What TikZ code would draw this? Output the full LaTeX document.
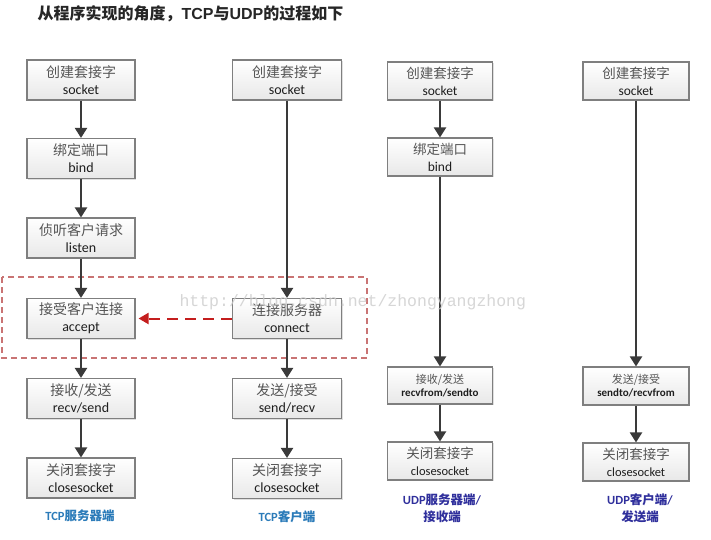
\documentclass[tikz,border=0pt]{standalone}
\usepackage{fontspec}
\usetikzlibrary{arrows.meta,shadows}
\newfontfamily\cjk{Noto Sans CJK SC}
\newfontfamily\en{Carlito}
\newfontfamily\ttl{Liberation Sans}
\newfontfamily\wm{Liberation Mono}
\definecolor{arrowgray}{HTML}{3A3A3A}
\definecolor{boxedge}{HTML}{7F7F7F}
\definecolor{zhtext}{HTML}{555555}
\definecolor{entext}{HTML}{1E1E1E}
\definecolor{tcpblue}{HTML}{2B7BB9}
\definecolor{udpblue}{HTML}{2F2F9C}
\definecolor{redarrow}{HTML}{C41E1E}
\definecolor{redframe}{HTML}{C97474}
\tikzset{
  x=1pt, y=-1pt,
  stepbox/.style={draw=boxedge, line width=1.1pt, top color=white, bottom color=gray!18,
    minimum height=40pt, inner sep=0pt, align=center,
    font=\fontsize{14}{17}\selectfont,
    drop shadow={shadow xshift=1.2pt, shadow yshift=-1.2pt, opacity=0.25}},
  smallbox/.style={stepbox, font=\fontsize{11}{13}\selectfont},
  flow/.style={draw=arrowgray, line width=2pt, -{Triangle[length=10pt,width=12pt]}},
  reqarrow/.style={draw=redarrow, line width=2pt, dash pattern=on 11pt off 7pt,
    -{Triangle[length=10pt,width=11pt]}, shorten >=3pt},
  frame/.style={draw=redframe, line width=1.3pt, dash pattern=on 6pt off 4pt},
  tcplabel/.style={text=tcpblue, font=\fontsize{12.5}{15}\selectfont\bfseries, align=center},
  udplabel/.style={text=udpblue, font=\fontsize{12.5}{17}\selectfont\bfseries, align=center},
}
\newcommand{\zh}[1]{{\cjk\color{zhtext}#1}}
\newcommand{\lat}[1]{{\en\color{entext}#1}}
\begin{document}
\begin{tikzpicture}
\useasboundingbox (0,0) rectangle (711,539);
\fill[white] (0,0) rectangle (711,539);

\node[anchor=west, text=black!85, font=\fontsize{16}{18}\selectfont\bfseries] (title) at (34,14)
  {{\cjk 从程序实现的角度，}{\ttl TCP}{\cjk 与}{\ttl UDP}{\cjk 的过程如下}};

% frame around accept/connect
\draw[frame] (2,277) rectangle (367,358);

% TCP server
\node[stepbox, minimum width=108pt] (s1) at (81,80)   {\zh{创建套接字}\\\lat{socket}};
\node[stepbox, minimum width=108pt] (s2) at (81,158.5){\zh{绑定端口}\\\lat{bind}};
\node[stepbox, minimum width=108pt] (s3) at (81,238)  {\zh{侦听客户请求}\\\lat{listen}};
\node[stepbox, minimum width=108pt] (s4) at (81,318.5){\zh{接受客户连接}\\\lat{accept}};
\node[stepbox, minimum width=108pt] (s5) at (81,398.5){\zh{接收/发送}\\\lat{recv/send}};
\node[stepbox, minimum width=108pt] (s6) at (81,478)  {\zh{关闭套接字}\\\lat{closesocket}};
\node[tcplabel] (l1) at (80,516) {{\en TCP}{\cjk 服务器端}};

% TCP client
\node[stepbox, minimum width=109pt] (c1) at (287,80)   {\zh{创建套接字}\\\lat{socket}};
\node[stepbox, minimum width=109pt] (c2) at (287,318.5){\zh{连接服务器}\\\lat{connect}};
\node[stepbox, minimum width=109pt] (c3) at (287,398.5){\zh{发送/接受}\\\lat{send/recv}};
\node[stepbox, minimum width=109pt] (c4) at (287,478.5){\zh{关闭套接字}\\\lat{closesocket}};
\node[tcplabel] (l2) at (287,517) {{\en TCP}{\cjk 客户端}};

% UDP server
\node[stepbox, minimum width=105pt, minimum height=38pt, font=\fontsize{13.5}{17}\selectfont] (u1) at (440,81) {\zh{创建套接字}\\\lat{socket}};
\node[stepbox, minimum width=105pt, minimum height=38pt, font=\fontsize{13.5}{17}\selectfont] (u2) at (440,157){\zh{绑定端口}\\\lat{bind}};
\node[smallbox, minimum width=105pt, minimum height=37pt] (u3) at (440,385.5){\zh{接收/发送}\\\lat{\bfseries recvfrom/sendto}};
\node[stepbox, minimum width=105pt, minimum height=38pt, font=\fontsize{13.5}{17}\selectfont] (u4) at (440,461){\zh{关闭套接字}\\{\en\color{entext}\fontsize{12.5}{17}\selectfont closesocket}};
\node[udplabel] (l3) at (442,508) {{\en UDP}{\cjk 服务器端}{\en /}\\{\cjk 接收端}};

% UDP client
\node[stepbox, minimum width=106pt, minimum height=38pt, font=\fontsize{13.5}{17}\selectfont] (v1) at (636,81) {\zh{创建套接字}\\\lat{socket}};
\node[smallbox, minimum width=106pt, minimum height=38pt] (v2) at (636,386){\zh{发送/接受}\\\lat{\bfseries sendto/recvfrom}};
\node[stepbox, minimum width=106pt, minimum height=38pt, font=\fontsize{13.5}{17}\selectfont] (v3) at (636,462){\zh{关闭套接字}\\{\en\color{entext}\fontsize{12.5}{17}\selectfont closesocket}};
\node[udplabel] (l4) at (640,508) {{\en UDP}{\cjk 客户端}{\en /}\\{\cjk 发送端}};

% connectors
\draw[flow] (s1) -- (s2);
\draw[flow] (s2) -- (s3);
\draw[flow] (s3) -- (s4);
\draw[flow] (s4) -- (s5);
\draw[flow] (s5) -- (s6);
\draw[flow] (c1) -- (c2);
\draw[flow] (c2) -- (c3);
\draw[flow] (c3) -- (c4);
\draw[flow] (u1) -- (u2);
\draw[flow] (u2) -- (u3);
\draw[flow] (u3) -- (u4);
\draw[flow] (v1) -- (v2);
\draw[flow] (v2) -- (v3);
\draw[reqarrow] (c2) -- (s4);

% watermark
\node[anchor=west, text=gray!40, opacity=0.8, font=\wm\fontsize{16.5}{18}\selectfont] (wmark) at (176,302) {http://blog.csdn.net/zhongyangzhong};
\end{tikzpicture}
\end{document}
